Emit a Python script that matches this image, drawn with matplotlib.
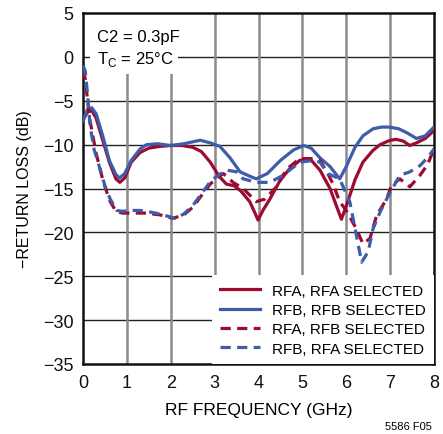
import matplotlib
matplotlib.use("Agg")
import matplotlib.pyplot as plt
from matplotlib import font_manager
from matplotlib.patches import Rectangle

names = {f.name for f in font_manager.fontManager.ttflist}
FAM = ['Liberation Sans Narrow', 'DejaVu Sans'] if 'Liberation Sans Narrow' in names else ['Liberation Sans', 'DejaVu Sans']
plt.rcParams['font.family'] = FAM

RED = '#9E0A30'
BLUE = '#3D5CAA'

# RFA, RFA SELECTED (solid red)
f_aa = [0, 0.1, 0.2, 0.3, 0.45, 0.6, 0.75, 0.84, 0.95, 1.1, 1.3, 1.5, 1.75, 2.0, 2.25, 2.5, 2.7, 2.9,
        3.1, 3.27, 3.45, 3.6, 3.8, 3.92, 3.99, 4.1, 4.26, 4.49, 4.7, 4.94, 5.17, 5.4, 5.63, 5.8, 5.89,
        6.0, 6.2, 6.38, 6.6, 6.77, 7.0, 7.14, 7.3, 7.45, 7.6, 7.8, 8.0]
db_aa = [-7.2, -6.3, -6.1, -7.0, -9.5, -12.0, -13.9, -14.3, -13.8, -12.0, -10.9, -10.4, -10.2, -10.1,
         -10.1, -10.3, -10.8, -12.0, -13.6, -14.5, -14.7, -15.3, -16.5, -17.8, -18.6, -17.5, -16.2,
         -14.1, -12.8, -11.8, -11.6, -12.9, -15.0, -17.3, -18.5, -17.0, -14.0, -12.0, -10.7, -10.0,
         -9.5, -9.4, -9.6, -10.1, -9.8, -9.3, -8.4]

# RFB, RFB SELECTED (solid blue)
f_bb = [0, 0.1, 0.2, 0.3, 0.45, 0.6, 0.75, 0.83, 0.95, 1.1, 1.3, 1.45, 1.7, 2.0, 2.3, 2.67, 2.9, 3.12,
        3.35, 3.58, 3.8, 3.95, 4.2, 4.5, 4.8, 5.03, 5.2, 5.4, 5.63, 5.85, 6.0, 6.2, 6.38, 6.61, 6.8,
        6.99, 7.2, 7.4, 7.6, 7.8, 8.0]
db_bb = [-7.3, -6.0, -5.8, -6.5, -9.0, -11.8, -13.4, -13.8, -13.3, -11.8, -10.5, -10.0, -9.9, -10.1,
         -9.9, -9.5, -9.8, -10.2, -11.5, -13.1, -13.6, -13.9, -13.3, -11.8, -10.6, -10.1, -10.4,
         -11.5, -12.5, -13.9, -12.5, -10.3, -9.0, -8.2, -8.0, -8.0, -8.2, -8.7, -9.3, -9.0, -8.0]

# RFA, RFB SELECTED (dashed red)
f_ab = [0, 0.05, 0.15, 0.3, 0.45, 0.6, 0.75, 0.9, 1.1, 1.4, 1.75, 2.05, 2.3, 2.51, 2.7, 2.9, 3.05,
        3.2, 3.42, 3.65, 3.85, 3.95, 4.15, 4.41, 4.64, 4.94, 5.24, 5.4, 5.58, 5.7, 5.85, 6.0, 6.23,
        6.38, 6.54, 6.69, 6.92, 7.03, 7.22, 7.45, 7.68, 7.85, 8.0]
db_ab = [-1.5, -2.5, -7.0, -11.0, -14.0, -16.3, -17.6, -17.8, -17.8, -17.8, -18.0, -18.4, -18.0,
         -17.1, -15.8, -14.5, -13.8, -13.3, -14.3, -15.0, -16.0, -16.5, -16.2, -14.8, -12.8, -11.6,
         -11.6, -11.8, -13.3, -14.5, -16.5, -17.5, -19.6, -21.3, -20.7, -18.1, -16.2, -14.7, -13.9,
         -14.8, -13.5, -12.3, -10.5]

# RFB, RFA SELECTED (dashed blue)
f_ba = [0, 0.05, 0.1, 0.16, 0.25, 0.39, 0.5, 0.62, 0.77, 0.9, 1.07, 1.3, 1.45, 1.75, 2.1, 2.3, 2.51,
        2.67, 2.89, 3.05, 3.27, 3.5, 3.65, 3.95, 4.26, 4.56, 4.94, 5.24, 5.4, 5.58, 5.85, 6.08, 6.23,
        6.35, 6.5, 6.61, 6.77, 6.92, 7.22, 7.45, 7.68, 7.85, 8.0]
db_ba = [-1.0, -1.6, -4.0, -7.8, -10.5, -12.8, -14.7, -16.2, -17.5, -17.6, -17.5, -17.5, -17.6,
         -17.9, -18.4, -17.9, -16.9, -15.8, -14.3, -13.6, -12.9, -13.1, -13.9, -14.3, -14.3, -13.5,
         -12.0, -11.8, -12.0, -13.3, -13.9, -16.5, -20.3, -23.4, -22.2, -19.6, -17.7, -16.2, -13.5,
         -13.1, -12.4, -11.5, -10.5]

labels = ['RFA, RFA SELECTED', 'RFB, RFB SELECTED', 'RFA, RFB SELECTED', 'RFB, RFA SELECTED']
xticks = [0, 1, 2, 3, 4, 5, 6, 7, 8]
yticks = [5, 0, -5, -10, -15, -20, -25, -30, -35]

fig = plt.figure(figsize=(4.43, 4.35), dpi=100)
ax = fig.add_axes([83/443, 1-365/435, 351/443, 351/435])
ax.set_xlim(0, 8)
ax.set_ylim(-35, 5)
ax.set_xticks(xticks)
ax.set_yticks(yticks)
ax.set_yticklabels([str(v).replace('-', '\u2212') for v in yticks])
ax.tick_params(length=0, labelsize=13, pad=7, colors='#111111')
for y in yticks[1:-1]:
    ax.axhline(y, color='#222222', lw=1.0, zorder=1)
for x in xticks[1:-1]:
    ax.axvline(x, color='#8a8a8a', lw=1.8, zorder=1)
for s in ax.spines.values():
    s.set_linewidth(1.8)
    s.set_color('#111111')

# white area behind the condition text
ax.add_patch(Rectangle((0.15, -1.95), 2.02, 7.0, facecolor='white', edgecolor='none', zorder=2))

dash = (0, (3.2, 2.0))
ax.plot(f_aa, db_aa, color=RED, lw=2.3, label=labels[0], zorder=3)
ax.plot(f_bb, db_bb, color=BLUE, lw=2.3, label=labels[1], zorder=3)
ax.plot(f_ab, db_ab, color=RED, lw=2.3, ls=dash, label=labels[2], zorder=3)
ax.plot(f_ba, db_ba, color=BLUE, lw=2.3, ls=dash, label=labels[3], zorder=3)

leg = ax.legend(loc='lower right', frameon=True, fontsize=11, handlelength=2.6,
                handletextpad=0.8, labelspacing=0.35, borderaxespad=0.0,
                borderpad=0.55, fancybox=False)
leg.get_frame().set_facecolor('white')
leg.get_frame().set_edgecolor('none')
leg.get_frame().set_alpha(1)
leg.set_zorder(5)

ax.text(0.33, 2.35, 'C2 = 0.3pF', fontsize=12, va='center', ha='left', zorder=6)
ax.text(0.33, -0.15, r'T$_\mathregular{C}$ = 25°C', fontsize=12, va='center', ha='left', zorder=6)

ax.set_xlabel('RF FREQUENCY (GHz)', fontsize=12.5, labelpad=8)
ax.set_ylabel('\u2212RETURN LOSS (dB)', fontsize=11.5, labelpad=8)
fig.text(432/443, 1-427/435, '5586 F05', fontsize=8, ha='right', va='center')

fig.savefig('out.png', dpi=100)
